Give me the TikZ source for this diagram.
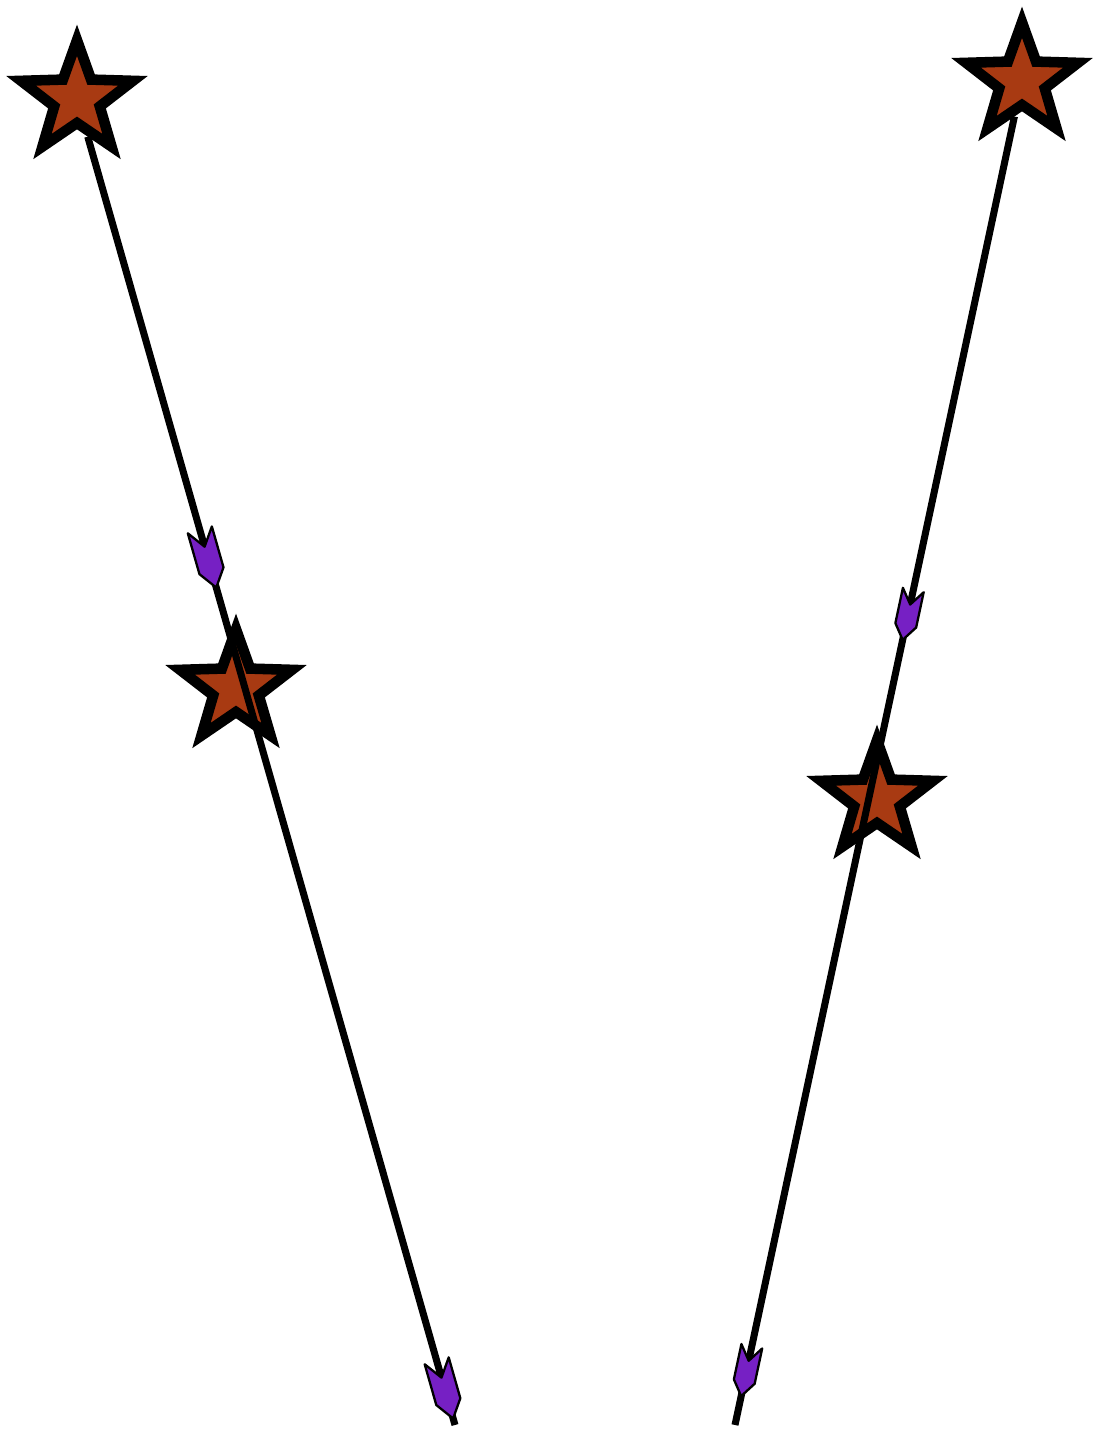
\documentclass[tikz,border=0pt]{standalone}
\usepackage{tikz}
\usetikzlibrary{shapes.geometric, decorations.markings}
\definecolor{myrust}{RGB}{168,58,18}
\definecolor{mypurple}{RGB}{118,32,196}
\tikzset{
  starnode/.style={star, star points=5, star point ratio=2.45,
    minimum size=2.35cm, inner sep=0pt, draw=black, fill=myrust,
    line width=6pt},
  track/.style={line width=4pt, color=black},
  flight/.style={draw=black, fill=mypurple, line width=1.3pt,
    line join=round},
  twomarks/.style n args={3}{postaction={decorate}, decoration={markings,
    mark=at position #1 with {\draw[flight, scale=#3] (0,0) -- (-0.35,0.25)
      -- (-1.2,0.25) -- (-0.85,0) -- (-1.2,-0.25) -- (-0.35,-0.25) -- cycle;},
    mark=at position #2 with {\draw[flight, scale=#3] (0,0) -- (-0.35,0.25)
      -- (-1.2,0.25) -- (-0.85,0) -- (-1.2,-0.25) -- (-0.35,-0.25) -- cycle;}}}
}
\begin{document}
\begin{tikzpicture}
  \useasboundingbox (0,0) rectangle (21.98,28.74);
  \node[starnode] (ls1) at (1.54,26.76) {};
  \node[starnode] (ls2) at (4.72,14.98) {};
  \node[starnode] (rs1) at (20.44,27.12) {};
  \node[starnode] (rs2) at (17.54,12.76) {};
  \coordinate (lend) at (9.1,0.24);
  \coordinate (rend) at (14.7,0.24);
  \draw[track, twomarks={0.35}{0.995}{1}] (ls1) -- (lend);
  \draw[track, twomarks={0.40}{0.978}{0.85}] (rs1) -- (rend);
\end{tikzpicture}
\end{document}
